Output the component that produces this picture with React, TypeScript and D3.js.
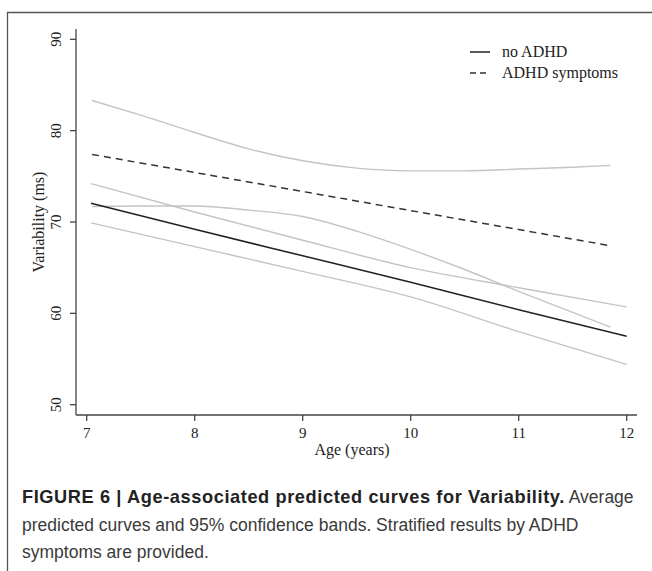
import React from "react";
import * as d3 from "d3";

const xTicks = [7, 8, 9, 10, 11, 12];
const yTicks = [50, 60, 70, 80, 90];

const noAdhdAge = [7.04, 8, 9, 10, 11, 12];
const noAdhdMean = [72.05, 69.2, 66.3, 63.4, 60.4, 57.5];
const noAdhdUpper = [74.2, 71.1, 68.0, 65.0, 62.8, 60.7];
const noAdhdLower = [69.9, 67.3, 64.6, 61.8, 58.0, 54.4];

const adhdAge = [7.05, 8, 9, 10, 11, 11.85];
const adhdMean = [77.4, 75.42, 73.34, 71.25, 69.17, 67.4];
const adhdUpperAge = [7.05, 7.5, 8, 8.5, 9, 9.5, 10, 10.5, 11, 11.5, 11.85];
const adhdUpper = [83.3, 81.7, 79.8, 78.0, 76.7, 75.9, 75.6, 75.6, 75.8, 76.0, 76.2];
const adhdLower = [71.7, 71.75, 71.75, 71.3, 70.6, 69.0, 67.0, 64.8, 62.4, 60.1, 58.5];

const legendLabels = ["no ADHD", "ADHD symptoms"];
const captionBold = "FIGURE 6 | Age-associated predicted curves for Variability.";
const captionRest = [" Average", "predicted curves and 95% confidence bands. Stratified results by ADHD", "symptoms are provided."];

export default function App() {
  const x = d3.scaleLinear().domain([7, 12]).range([86.7, 626.7]);
  const y = d3.scaleLinear().domain([50, 90]).range([404.7, 39.3]);
  const line = (xs: number[], ys: number[]) =>
    d3
      .line<number>()
      .x((_, i) => x(xs[i]))
      .y((d) => y(d))
      .curve(d3.curveMonotoneX)(ys) as string;

  const serif = "'Liberation Serif', 'Times New Roman', serif";
  const sans = "'Liberation Sans', Arial, sans-serif";
  const axisColor = "#444";
  const gray = "#c4c4c4";

  return (
    <svg
      width={652}
      height={571}
      style={{ position: "absolute", left: 0, top: 0, background: "#fff" }}
    >
      <rect x={0} y={0} width={652} height={571} fill="#fff" />
      {/* frame */}
      <line x1={7} y1={12.5} x2={652} y2={12.5} stroke="#555" strokeWidth={1.3} />
      <line x1={7.5} y1={12} x2={7.5} y2={571} stroke="#555" strokeWidth={1.3} />

      {/* confidence bands */}
      <path d={line(noAdhdAge, noAdhdUpper)} fill="none" stroke={gray} strokeWidth={1.4} />
      <path d={line(noAdhdAge, noAdhdLower)} fill="none" stroke={gray} strokeWidth={1.4} />
      <path d={line(adhdUpperAge, adhdUpper)} fill="none" stroke={gray} strokeWidth={1.4} />
      <path d={line(adhdUpperAge, adhdLower)} fill="none" stroke={gray} strokeWidth={1.4} />
      {/* means */}
      <path d={line(noAdhdAge, noAdhdMean)} fill="none" stroke="#222" strokeWidth={1.5} />
      <path
        d={line(adhdAge, adhdMean)}
        fill="none"
        stroke="#333"
        strokeWidth={1.5}
        strokeDasharray="7,5"
      />

      {/* axes */}
      <line x1={76} y1={29} x2={76} y2={415} stroke={axisColor} strokeWidth={1.3} />
      <line x1={76} y1={415} x2={637} y2={415} stroke={axisColor} strokeWidth={1.3} />
      {yTicks.map((t) => (
        <g key={"y" + t}>
          <line x1={70} x2={76} y1={y(t)} y2={y(t)} stroke={axisColor} strokeWidth={1.3} />
          <text
            transform={`translate(61,${y(t)}) rotate(-90)`}
            textAnchor="middle"
            fontFamily={serif}
            fontSize={15}
            fill="#222"
          >
            {t}
          </text>
        </g>
      ))}
      {xTicks.map((t) => (
        <g key={"x" + t}>
          <line x1={x(t)} x2={x(t)} y1={415} y2={421} stroke={axisColor} strokeWidth={1.3} />
          <text x={x(t)} y={437.5} textAnchor="middle" fontFamily={serif} fontSize={15} fill="#222">
            {t}
          </text>
        </g>
      ))}
      <text x={352} y={455} textAnchor="middle" fontFamily={serif} fontSize={16} fill="#222">
        Age (years)
      </text>
      <text
        transform="translate(44,222) rotate(-90)"
        textAnchor="middle"
        fontFamily={serif}
        fontSize={16}
        fill="#222"
      >
        Variability (ms)
      </text>

      {/* legend */}
      <line x1={470} x2={490} y1={52} y2={52} stroke="#222" strokeWidth={1.5} />
      <line x1={470} x2={490} y1={73} y2={73} stroke="#333" strokeWidth={1.5} strokeDasharray="6,4" />
      <text x={502} y={57} fontFamily={serif} fontSize={16} fill="#222">
        {legendLabels[0]}
      </text>
      <text x={502} y={78} fontFamily={serif} fontSize={16} fill="#222">
        {legendLabels[1]}
      </text>

      {/* caption */}
      <text x={22} y={503} fontFamily={sans} fontSize={17.5} fill="#3a3a3a">
        <tspan fontWeight="bold" fill="#222" fontSize={18.2} letterSpacing={0.6}>
          {captionBold}
        </tspan>
        <tspan>{captionRest[0]}</tspan>
      </text>
      <text x={22} y={531} fontFamily={sans} fontSize={17.5} fill="#3a3a3a">
        {captionRest[1]}
      </text>
      <text x={22} y={558} fontFamily={sans} fontSize={17.5} fill="#3a3a3a">
        {captionRest[2]}
      </text>
    </svg>
  );
}
